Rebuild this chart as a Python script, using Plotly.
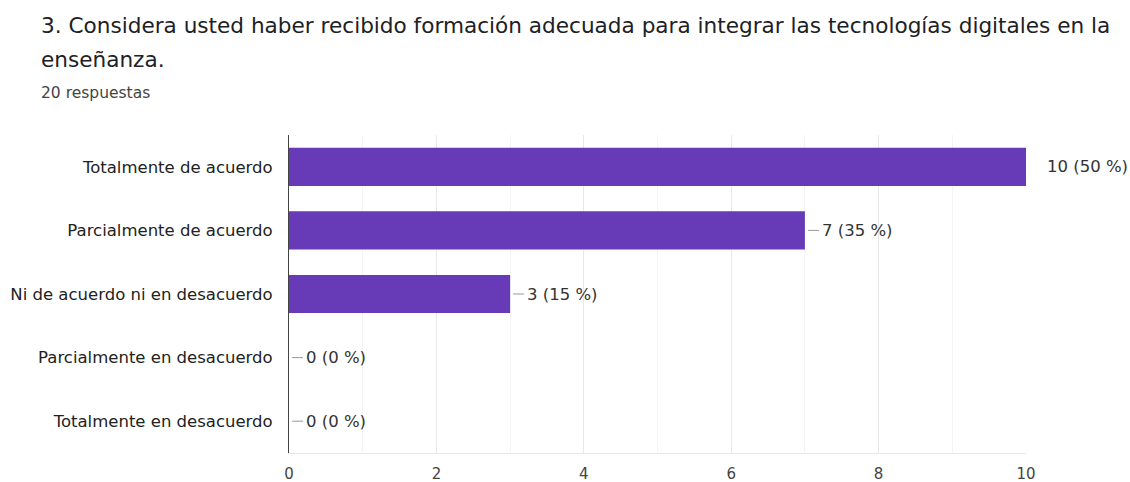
import plotly.graph_objects as go

categories = [
    "Totalmente de acuerdo",
    "Parcialmente de acuerdo",
    "Ni de acuerdo ni en desacuerdo",
    "Parcialmente en desacuerdo",
    "Totalmente en desacuerdo",
]
counts = [10, 7, 3, 0, 0]
percents = [50, 35, 15, 0, 0]
total_responses = 20

title_line1 = "3. Considera usted haber recibido formación adecuada para integrar las tecnologías digitales en la"
title_line2 = "enseñanza."
subtitle = f"{total_responses} respuestas"

purple = "#673ab7"
font_family = "DejaVu Sans, Verdana, sans-serif"

fig = go.Figure(
    go.Bar(
        x=counts,
        y=categories,
        orientation="h",
        marker=dict(color=purple, line=dict(width=0)),
        hoverinfo="skip",
    )
)

axis_max = max(counts)
annotations = []
shapes = []
for cat, c, p in zip(categories, counts, percents):
    label = f"{c} ({p} %)"
    if c >= axis_max:
        annotations.append(dict(
            x=c, y=cat, xref="x", yref="y", text=label, showarrow=False,
            xanchor="left", xshift=19, font=dict(size=16.5, color="#333", family=font_family),
        ))
    else:
        shapes.append(dict(
            type="line", xref="x", yref="y", xsizemode="pixel", xanchor=c,
            x0=3, x1=14, y0=cat, y1=cat, line=dict(color="#999", width=1),
        ))
        annotations.append(dict(
            x=c, y=cat, xref="x", yref="y", text=label, showarrow=False,
            xanchor="left", xshift=15, font=dict(size=16.5, color="#333", family=font_family),
        ))

header = [
    (title_line1, 25, 21.6, "#202124"),
    (title_line2, 60, 21.6, "#202124"),
    (subtitle, 93, 15.5, "#444"),
]

W, H = 1130, 482
ml, mr, mt, mb = 289, 104, 135, 29
pw, ph = W - ml - mr, H - mt - mb
for text, ypix, size, color in header:
    annotations.append(dict(
        x=(39 - ml) / pw, y=1 - (ypix - mt) / ph, xref="paper", yref="paper",
        text=text, showarrow=False, xanchor="left", yanchor="middle",
        font=dict(size=size, color=color, family=font_family),
    ))

fig.update_layout(
    width=W,
    height=H,
    margin=dict(l=ml, r=mr, t=mt, b=mb, pad=0, autoexpand=False),
    paper_bgcolor="white",
    plot_bgcolor="white",
    bargap=0.4,
    showlegend=False,
    font=dict(family=font_family, color="#333"),
    annotations=annotations,
    shapes=shapes,
    xaxis=dict(
        range=[0, axis_max],
        tickvals=[0, 2, 4, 6, 8, 10],
        showgrid=True,
        gridcolor="#e8e8e8",
        gridwidth=1,
        minor=dict(dtick=1, showgrid=True, gridcolor="#f4f4f4"),
        zeroline=False,
        showline=True,
        linecolor="#e8e8e8",
        tickfont=dict(size=15, color="#444"),
        ticks="",
        ticklabelstandoff=7,
        automargin=False,
        fixedrange=True,
    ),
    yaxis=dict(
        autorange="reversed",
        showgrid=False,
        zeroline=False,
        showline=True,
        linecolor="#444",
        linewidth=1,
        ticks="",
        ticklabelstandoff=12,
        tickfont=dict(size=16.5, color="#222"),
        automargin=False,
        fixedrange=True,
    ),
)

fig.write_html("out.html")
